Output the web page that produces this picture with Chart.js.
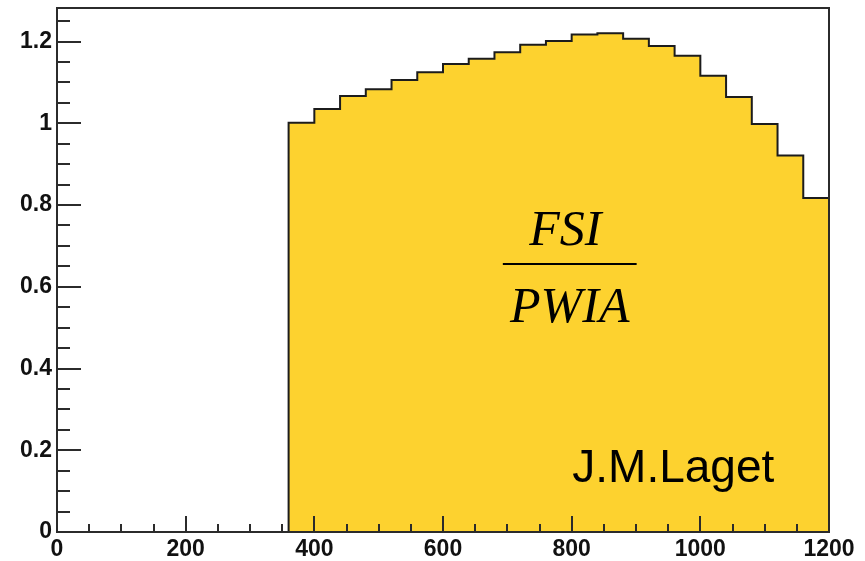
<!DOCTYPE html>
<html>
<head>
<meta charset="utf-8">
<script src="https://cdn.jsdelivr.net/npm/chart.js@4.4.1/dist/chart.umd.min.js"></script>
<style>
  html, body { margin: 0; padding: 0; background: #ffffff; }
  #wrap { width: 865px; height: 561px; }
</style>
</head>
<body>
<div id="wrap"><canvas id="c" width="865" height="561"></canvas></div>
<script>
// Histogram bins (lower edges, width 40) and the FSI / PWIA ratio in each bin
const binWidth = 40;
const binStart = [0, 40, 80, 120, 160, 200, 240, 280, 320,
                  360, 400, 440, 480, 520, 560, 600, 640, 680, 720, 760,
                  800, 840, 880, 920, 960, 1000, 1040, 1080, 1120, 1160];
const ratio = [0, 0, 0, 0, 0, 0, 0, 0, 0,
               1.001, 1.035, 1.067, 1.083, 1.106, 1.125, 1.145, 1.158, 1.174, 1.192, 1.201,
               1.217, 1.220, 1.207, 1.189, 1.165, 1.116, 1.064, 0.998, 0.921, 0.817];

// Axis ticks
const xMajorTicks = [0, 200, 400, 600, 800, 1000, 1200];
const yMajorTicks = [0, 0.2, 0.4, 0.6, 0.8, 1, 1.2];
const xMinorStep = 50;
const yMinorStep = 0.05;
const xRange = [0, 1200];
const yRange = [0, 1.282];

// Step outline: each bin's upper edge carries that bin's value (the step
// rises at the bin's lower edge); a leading point opens the outline
const points = [{ x: binStart[0], y: ratio[0] }].concat(
  binStart.map((x, i) => ({ x: x + binWidth, y: ratio[i] }))
);

const FRAME = '#2b2b2b';

// ROOT-style inward tick marks and frame
const frameAndTicks = {
  id: 'frameAndTicks',
  afterDatasetsDraw(chart) {
    const { ctx, chartArea: a, scales: { x, y } } = chart;
    ctx.save();
    ctx.strokeStyle = FRAME;
    ctx.lineWidth = 2;
    ctx.beginPath();
    // y ticks (left axis)
    for (let v = yRange[0]; v <= yRange[1] + 1e-9; v += yMinorStep) {
      const major = yMajorTicks.some(t => Math.abs(t - v) < 1e-6);
      const py = Math.round(y.getPixelForValue(v));
      ctx.moveTo(a.left, py);
      ctx.lineTo(a.left + (major ? 24 : 13), py);
    }
    // x ticks (bottom axis)
    for (let v = xRange[0]; v <= xRange[1] + 1e-9; v += xMinorStep) {
      const major = xMajorTicks.includes(Math.round(v));
      const px = Math.round(x.getPixelForValue(v));
      ctx.moveTo(px, a.bottom);
      ctx.lineTo(px, a.bottom - (major ? 16 : 8));
    }
    ctx.stroke();
    ctx.strokeRect(a.left, a.top, a.right - a.left, a.bottom - a.top);
    ctx.restore();
  }
};

// Labels inside the plot: the ratio and the author
const plotText = {
  id: 'plotText',
  afterDatasetsDraw(chart) {
    const { ctx, scales: { x, y } } = chart;
    ctx.save();
    ctx.fillStyle = '#000';
    ctx.textAlign = 'center';
    ctx.textBaseline = 'alphabetic';
    ctx.font = 'italic 50px "Liberation Serif", "DejaVu Serif", serif';
    ctx.fillText('FSI', x.getPixelForValue(790), y.getPixelForValue(0.702));
    ctx.fillText('PWIA', x.getPixelForValue(797), y.getPixelForValue(0.514));
    ctx.strokeStyle = '#000';
    ctx.lineWidth = 2;
    ctx.beginPath();
    const ly = Math.round(y.getPixelForValue(0.656));
    ctx.moveTo(x.getPixelForValue(693), ly);
    ctx.lineTo(x.getPixelForValue(901), ly);
    ctx.stroke();
    ctx.textAlign = 'left';
    ctx.font = '46px "Liberation Sans", Arial, sans-serif';
    ctx.fillText('J.M.Laget', x.getPixelForValue(801), y.getPixelForValue(0.123));
    ctx.restore();
  }
};

const tickFont = { family: '"Liberation Sans", Arial, sans-serif', size: 23, weight: 'bold' };

new Chart(document.getElementById('c'), {
  type: 'line',
  data: {
    datasets: [{
      data: points,
      stepped: 'after',
      borderColor: '#1c1c1c',
      borderWidth: 2,
      backgroundColor: '#FDD22F',
      fill: 'origin',
      pointRadius: 0,
      tension: 0
    }]
  },
  options: {
    responsive: false,
    animation: false,
    events: [],
    layout: { padding: { top: 8, right: 36, left: 0, bottom: 0 } },
    plugins: { legend: { display: false }, tooltip: { enabled: false } },
    scales: {
      x: {
        type: 'linear',
        min: xRange[0], max: xRange[1],
        grid: { display: false, drawTicks: false },
        border: { display: false },
        afterBuildTicks: s => { s.ticks = xMajorTicks.map(v => ({ value: v })); },
        afterFit: s => { s.height = 29; s.paddingLeft = 0; s.paddingRight = 0; },
        ticks: { font: tickFont, color: '#111', padding: 4, maxRotation: 0, autoSkip: false,
                 callback: v => String(v) }
      },
      y: {
        type: 'linear',
        min: yRange[0], max: yRange[1],
        grid: { display: false, drawTicks: false },
        border: { display: false },
        afterBuildTicks: s => { s.ticks = yMajorTicks.map(v => ({ value: v })); },
        afterFit: s => { s.width = 57; s.paddingTop = 0; s.paddingBottom = 0; },
        ticks: { font: tickFont, color: '#111', padding: 5, callback: v => String(v) }
      }
    }
  },
  plugins: [frameAndTicks, plotText]
});
</script>
</body>
</html>
